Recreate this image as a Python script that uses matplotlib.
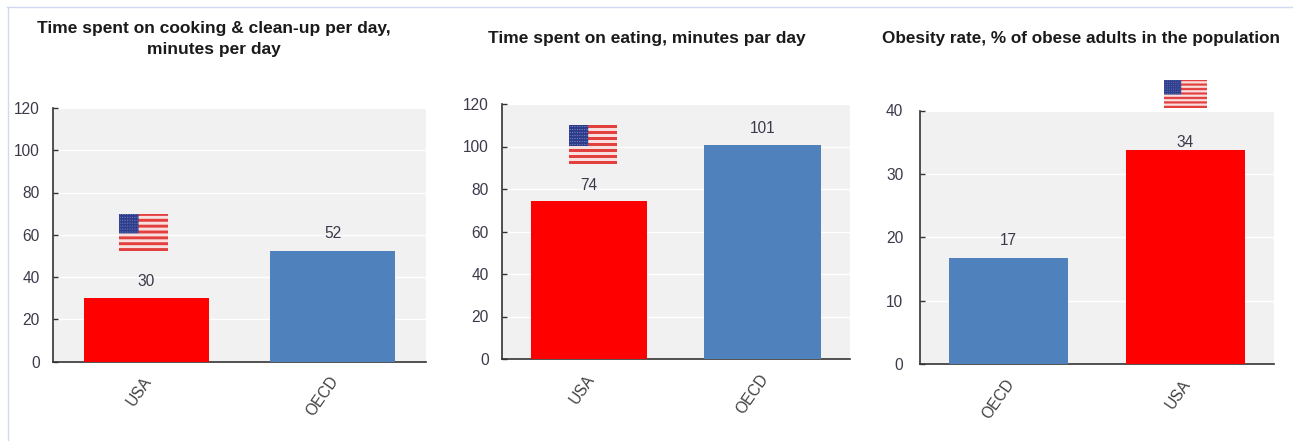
import numpy as np
import matplotlib
matplotlib.use("Agg")
import matplotlib.pyplot as plt
from matplotlib.lines import Line2D
from matplotlib.transforms import ScaledTranslation

plt.rcParams['font.family'] = ['Liberation Sans', 'DejaVu Sans']

W, H = 1293, 441

# panel 1
cook_labels = ["USA", "OECD"]
cook_values = [30, 52.2]
cook_text = ["30", "52"]
# panel 2
eat_labels = ["USA", "OECD"]
eat_values = [74.2, 100.8]
eat_text = ["74", "101"]
# panel 3
obese_labels = ["OECD", "USA"]
obese_values = [16.8, 33.7]
obese_text = ["17", "34"]

RED = "#ff0000"
BLUE = "#4f81bd"


def px_axes(fig, left, right, top, bottom):
    return fig.add_axes([left / W, 1 - bottom / H, (right - left) / W, (bottom - top) / H])


def panel(fig, box, labels, values, text, ymax, step, title, title_y, title_x, gaps,
          title_size=12.5, ypad=9.5):
    ax = px_axes(fig, *box)
    ax.set_facecolor("#f1f1f1")
    colors = [RED if c == "USA" else BLUE for c in labels]
    x = np.arange(len(labels))
    ax.bar(x, values, width=0.67, color=colors, zorder=3)
    ax.set_xlim(-0.5, 1.5)
    ax.set_ylim(0, ymax)
    ax.set_yticks(np.arange(0, ymax + 1, step))
    ax.grid(axis="y", color="white", lw=1, zorder=1)
    ax.set_axisbelow(True)
    ax.tick_params(axis="y", direction="in", length=3.5, width=1, color="#333333",
                   labelsize=11.2, labelcolor="#3a3a4a", pad=ypad)
    ax.tick_params(axis="x", length=0, pad=9)
    ax.set_xticks(x)
    ax.set_xticklabels(labels, rotation=55, ha="right", rotation_mode="anchor",
                       fontsize=11.2, color="#404040")
    shift = ScaledTranslation(-4 / 100, 0, fig.dpi_scale_trans)
    for tick in ax.get_xticklabels():
        tick.set_transform(tick.get_transform() + shift)
    for s in ["top", "right"]:
        ax.spines[s].set_visible(False)
    for s in ["left", "bottom"]:
        ax.spines[s].set_color("#333333")
        ax.spines[s].set_linewidth(1.2)
    for i in range(len(values)):
        ax.annotate(text[i], (x[i], values[i]), xytext=(0, gaps[i] * 0.72),
                    textcoords="offset points", ha="center", va="center",
                    fontsize=11.2, color="#3a3a4a", zorder=4)
    fig.text(title_x / W, 1 - title_y / H, title, ha="center", va="center",
             fontsize=title_size, fontweight="bold", color="#1a1a1a", linespacing=1.45)
    return ax


def flag(fig, left, right, top, bottom):
    # 13 stripes with a dotted blue canton
    rows, cols = 39, 60
    img = np.ones((rows, cols, 3))
    for r in range(rows):
        if (r // 3) % 2 == 0:
            img[r, :] = [0.89, 0.25, 0.25]
        else:
            img[r, :] = [0.98, 0.88, 0.88]
    img[:21, :24] = [0.18, 0.24, 0.55]
    for r in range(1, 21, 3):
        for c in range(1, 24, 3):
            img[r, c] = [0.55, 0.6, 0.8]
    ax = px_axes(fig, left, right, top, bottom)
    ax.imshow(img, aspect="auto", interpolation="bilinear")
    ax.axis("off")
    ax.set_zorder(5)


fig = plt.figure(figsize=(W / 100, H / 100), dpi=100, facecolor="white")

panel(fig, (53, 426, 108, 361.5), cook_labels, cook_values, cook_text, 120, 20,
      "Time spent on cooking & clean-up per day,\nminutes per day", 39, 213.5, [17, 18])
panel(fig, (502, 849.5, 104, 359), eat_labels, eat_values, eat_text, 120, 20,
      "Time spent on eating, minutes par day", 38, 646.5, [16, 16])
panel(fig, (920, 1274, 110.5, 364), obese_labels, obese_values, obese_text, 40, 10,
      "Obesity rate, % of obese adults in the population", 38, 1081.5, [17, 8],
      title_size=12.35, ypad=12)

flag(fig, 119.5, 168, 214, 251)
flag(fig, 569, 616.5, 125, 164)
flag(fig, 1163.5, 1206, 80, 108.5)

# thin page frame
fig.add_artist(Line2D([7 / W, 1], [1 - 6.5 / H, 1 - 6.5 / H], color="#d0d9f0", lw=1))
fig.add_artist(Line2D([7.5 / W, 7.5 / W], [0, 1 - 6.5 / H], color="#d0d9f0", lw=1))

fig.savefig("out.png", dpi=100)
